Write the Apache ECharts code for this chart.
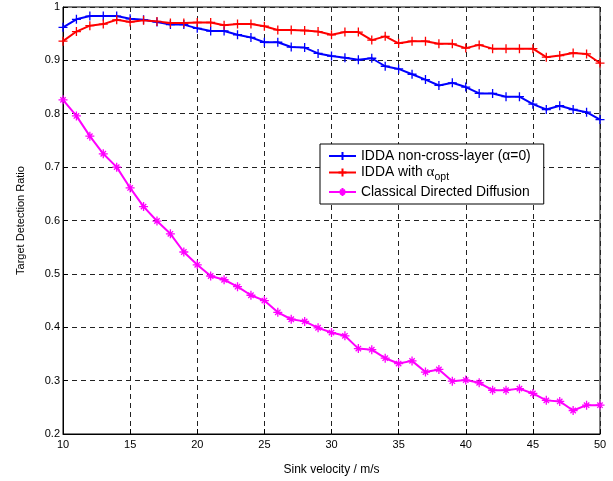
<!DOCTYPE html>
<html>
<head>
<meta charset="utf-8">
<script src="https://cdn.jsdelivr.net/npm/echarts@6/dist/echarts.min.js"></script>
<style>
html,body{margin:0;padding:0;background:#fff;}
#c{width:613px;height:481px;}
</style>
</head>
<body>
<div id="c"></div>
<script>
var velocities = [10,11,12,13,14,15,16,17,18,19,20,21,22,23,24,25,26,27,28,29,30,31,32,33,34,35,36,37,38,39,40,41,42,43,44,45,46,47,48,49,50];
var iddaNonCross = [0.962,0.977,0.983,0.983,0.983,0.978,0.976,0.972,0.967,0.967,
  0.960,0.955,0.955,0.948,0.943,0.934,0.934,0.925,0.924,0.913,
  0.908,0.905,0.901,0.904,0.889,0.884,0.874,0.864,0.853,0.858,
  0.850,0.838,0.838,0.832,0.832,0.818,0.808,0.815,0.808,0.803,0.789];
var iddaOpt = [0.936,0.954,0.965,0.968,0.976,0.972,0.975,0.973,0.970,0.970,
  0.971,0.971,0.966,0.968,0.968,0.964,0.957,0.957,0.956,0.954,
  0.948,0.953,0.953,0.938,0.945,0.932,0.936,0.936,0.931,0.931,
  0.923,0.929,0.922,0.922,0.922,0.922,0.906,0.909,0.914,0.912,0.895];
var classicalDD = [0.826,0.796,0.758,0.725,0.700,0.661,0.626,0.599,0.575,0.541,
  0.517,0.496,0.489,0.476,0.460,0.450,0.428,0.415,0.411,0.399,
  0.390,0.384,0.360,0.358,0.342,0.332,0.337,0.316,0.321,0.299,
  0.301,0.296,0.282,0.282,0.285,0.276,0.263,0.261,0.244,0.254,0.254];
var seriesNames = ['IDDA non-cross-layer (\u03b1=0)', 'IDDA with \u03b1_opt', 'Classical Directed Diffusion'];
var xTicks = [10,15,20,25,30,35,40,45,50];
var yTicks = [0.2,0.3,0.4,0.5,0.6,0.7,0.8,0.9,1];

function pairs(vals){ return velocities.map(function(v,i){ return [v, vals[i]]; }); }
var plusPath = 'path://M0,-1L0,1M-1,0L1,0';
var starPath = 'path://M0,-1L0,1M-1,0L1,0M-0.6,-0.6L0.6,0.6M-0.6,0.6L0.6,-0.6';
function mk(name, vals, color, sym){
  return {
    name: name, type: 'line', data: pairs(vals),
    symbol: sym, symbolSize: 9, showAllSymbol: true,
    lineStyle: {color: color, width: 2},
    itemStyle: {color: color, borderColor: color, borderWidth: 1.3},
    animation: false
  };
}
var chart = echarts.init(document.getElementById('c'));
chart.setOption({
  animation: false,
  backgroundColor: '#fff',
  textStyle: {fontFamily: 'Liberation Sans, Arial, sans-serif'},
  grid: {left: 63, right: 13, top: 7, bottom: 44, show: true, borderColor: '#000', borderWidth: 1},
  legend: {
    orient: 'vertical', left: 320, top: 144,
    padding: [5, 13, 5, 8], itemGap: 2, itemWidth: 27, itemHeight: 10,
    backgroundColor: '#fff', borderColor: '#000', borderWidth: 1, borderRadius: 0,
    data: seriesNames,
    formatter: function(n){ return n === seriesNames[1] ? 'IDDA with {a|\u03b1}{sub|opt}' : n; },
    textStyle: {fontSize: 13.9, color: '#000', fontFamily: 'Liberation Sans, Arial, sans-serif',
      rich: {a: {fontSize: 15, fontFamily: 'Liberation Serif, serif', color: '#000'},
             sub: {fontSize: 10.5, color: '#000', padding: [10, 0, 0, 0]}}}
  },
  xAxis: {
    type: 'value', min: 10, max: 50, interval: 5,
    name: 'Sink velocity / m/s', nameLocation: 'middle', nameGap: 30,
    nameTextStyle: {fontSize: 12, color: '#000'},
    axisLine: {show: true, lineStyle: {color: '#000', width: 1}},
    axisTick: {show: true, inside: true, length: 5, lineStyle: {color: '#000'}},
    axisLabel: {fontSize: 11, color: '#000', margin: 5},
    splitLine: {show: true, lineStyle: {color: '#222', type: [5, 4], width: 1}}
  },
  yAxis: {
    type: 'value', min: 0.2, max: 1, interval: 0.1,
    name: 'Target Detection Ratio', nameLocation: 'middle', nameGap: 37,
    nameTextStyle: {fontSize: 11, color: '#000'},
    axisLine: {show: true, lineStyle: {color: '#000', width: 1}},
    axisTick: {show: true, inside: true, length: 5, lineStyle: {color: '#000'}},
    axisLabel: {fontSize: 11, color: '#000', margin: 3,
      formatter: function(v){ return String(Math.round(v*10)/10); }},
    splitLine: {show: true, lineStyle: {color: '#222', type: [5, 4], width: 1}}
  },
  series: [
    mk(seriesNames[0], iddaNonCross, '#0000ff', plusPath),
    mk(seriesNames[1], iddaOpt, '#ff0000', plusPath),
    mk(seriesNames[2], classicalDD, '#ff00ff', starPath)
  ]
});
</script>
</body>
</html>
